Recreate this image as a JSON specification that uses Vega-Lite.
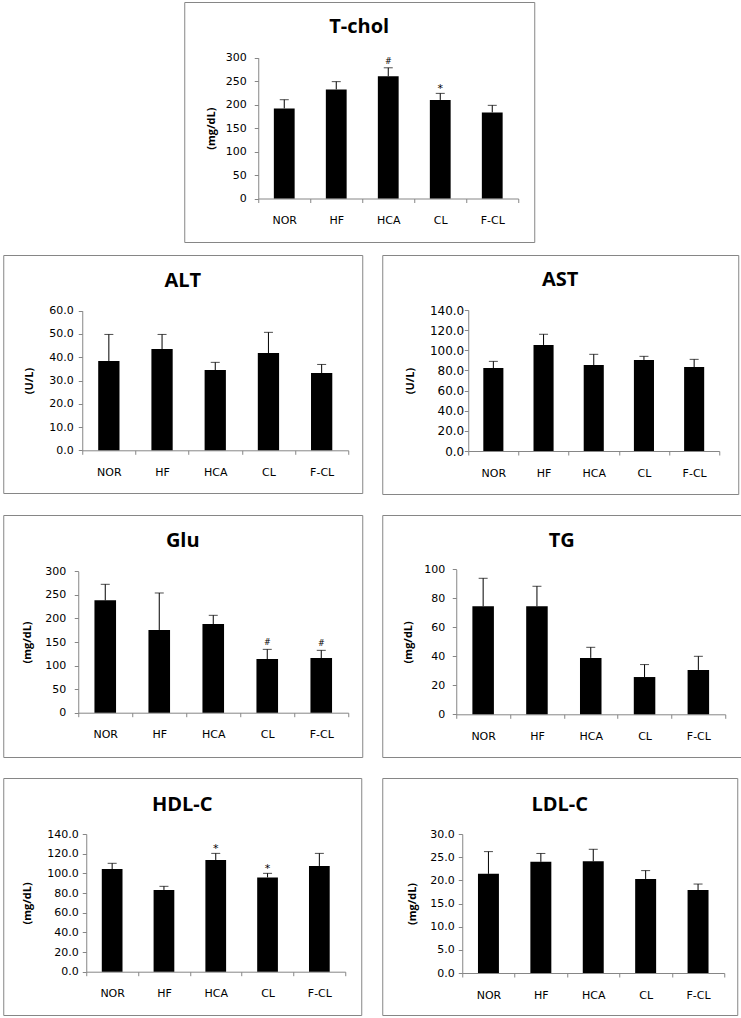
{
  "$schema": "https://vega.github.io/schema/vega-lite/v6.json",
  "background": "white",
  "padding": {"left": 2, "top": 1, "right": 0, "bottom": 0},
  "data": {"values": [
    {"panel": "T-chol", "group": "NOR", "value": 192, "upper": 210.5, "sig": ""},
    {"panel": "T-chol", "group": "HF", "value": 232.5, "upper": 249, "sig": ""},
    {"panel": "T-chol", "group": "HCA", "value": 260.5, "upper": 278.5, "sig": "#"},
    {"panel": "T-chol", "group": "CL", "value": 210, "upper": 224, "sig": "*"},
    {"panel": "T-chol", "group": "F-CL", "value": 183.5, "upper": 198.5, "sig": ""},
    {"panel": "ALT", "group": "NOR", "value": 38.4, "upper": 49.8, "sig": ""},
    {"panel": "ALT", "group": "HF", "value": 43.5, "upper": 49.8, "sig": ""},
    {"panel": "ALT", "group": "HCA", "value": 34.5, "upper": 37.8, "sig": ""},
    {"panel": "ALT", "group": "CL", "value": 41.8, "upper": 50.7, "sig": ""},
    {"panel": "ALT", "group": "F-CL", "value": 33.2, "upper": 36.9, "sig": ""},
    {"panel": "AST", "group": "NOR", "value": 82.4, "upper": 89.0, "sig": ""},
    {"panel": "AST", "group": "HF", "value": 105.3, "upper": 115.9, "sig": ""},
    {"panel": "AST", "group": "HCA", "value": 85.4, "upper": 96.0, "sig": ""},
    {"panel": "AST", "group": "CL", "value": 90.4, "upper": 94.0, "sig": ""},
    {"panel": "AST", "group": "F-CL", "value": 83.4, "upper": 91.0, "sig": ""},
    {"panel": "Glu", "group": "NOR", "value": 238.4, "upper": 272.4, "sig": ""},
    {"panel": "Glu", "group": "HF", "value": 175.5, "upper": 254, "sig": ""},
    {"panel": "Glu", "group": "HCA", "value": 188.2, "upper": 206.6, "sig": ""},
    {"panel": "Glu", "group": "CL", "value": 113.9, "upper": 134.4, "sig": "#"},
    {"panel": "Glu", "group": "F-CL", "value": 116, "upper": 132.3, "sig": "#"},
    {"panel": "TG", "group": "NOR", "value": 74.5, "upper": 93.8, "sig": ""},
    {"panel": "TG", "group": "HF", "value": 74.5, "upper": 88.3, "sig": ""},
    {"panel": "TG", "group": "HCA", "value": 38.9, "upper": 46.2, "sig": ""},
    {"panel": "TG", "group": "CL", "value": 25.7, "upper": 34.3, "sig": ""},
    {"panel": "TG", "group": "F-CL", "value": 30.6, "upper": 40.0, "sig": ""},
    {"panel": "HDL-C", "group": "NOR", "value": 104.4, "upper": 110.2, "sig": ""},
    {"panel": "HDL-C", "group": "HF", "value": 83.1, "upper": 86.8, "sig": ""},
    {"panel": "HDL-C", "group": "HCA", "value": 113.6, "upper": 120.3, "sig": "*"},
    {"panel": "HDL-C", "group": "CL", "value": 95.9, "upper": 100.0, "sig": "*"},
    {"panel": "HDL-C", "group": "F-CL", "value": 107.5, "upper": 120.3, "sig": ""},
    {"panel": "LDL-C", "group": "NOR", "value": 21.4, "upper": 26.2, "sig": ""},
    {"panel": "LDL-C", "group": "HF", "value": 24.0, "upper": 25.8, "sig": ""},
    {"panel": "LDL-C", "group": "HCA", "value": 24.1, "upper": 26.7, "sig": ""},
    {"panel": "LDL-C", "group": "CL", "value": 20.3, "upper": 22.1, "sig": ""},
    {"panel": "LDL-C", "group": "F-CL", "value": 17.9, "upper": 19.2, "sig": ""}
  ]},
  "spacing": 11,
  "center": true,
  "vconcat": [
    {
      "width": 350, "height": 240,
      "title": {"text": "T-chol", "offset": -35},
      "transform": [{"filter": "datum.panel === 'T-chol'"}],
      "encoding": {"x": {"field": "group", "type": "nominal", "sort": ["NOR", "HF", "HCA", "CL", "F-CL"], "scale": {"range": [74, 334], "paddingInner": 0, "paddingOuter": 0}, "axis": {"title": null, "offset": -43.5}}},
      "layer": [
        {
          "layer": [
            {"mark": {"type": "bar", "color": "#000", "width": {"band": 0.4}}, "encoding": {"y": {"field": "value", "type": "quantitative", "scale": {"domain": [0, 300], "range": [196.5, 55.7]}, "axis": {"title": "(mg/dL)", "values": [0, 50, 100, 150, 200, 250, 300], "tickCount": 20, "format": "d", "offset": -74, "labelPadding": 8, "titleX": -47, "titleBaseline": "middle"}}}},
            {"mark": {"type": "rule", "color": "#000"}, "encoding": {"y": {"field": "value", "type": "quantitative", "title": "(mg/dL)"}, "y2": {"field": "upper"}}},
            {"transform": [{"filter": "datum.sig === '#'"}], "mark": {"type": "text", "font": "DejaVu Sans", "fontSize": 8, "baseline": "alphabetic", "dy": -4, "color": "#000"}, "encoding": {"y": {"field": "upper", "type": "quantitative", "title": "(mg/dL)"}, "text": {"field": "sig"}}},
            {"transform": [{"filter": "datum.sig === '*'"}], "mark": {"type": "text", "font": "DejaVu Sans", "fontSize": 11, "baseline": "alphabetic", "dy": -1.5, "color": "#000"}, "encoding": {"y": {"field": "upper", "type": "quantitative", "title": "(mg/dL)"}, "text": {"field": "sig"}}}
          ]
        },
        {"mark": {"type": "tick", "color": "#000", "size": 9, "thickness": 1}, "encoding": {"y": {"field": "upper", "type": "quantitative", "scale": {"domain": [0, 300], "range": [196.5, 55.7]}, "axis": {"orient": "right", "domain": false, "ticks": false, "labels": false, "title": null, "minExtent": 26, "maxExtent": 26}}}}
      ],
      "resolve": {"scale": {"y": "independent"}, "axis": {"y": "independent"}}
    },
    {
      "columns": 2,
      "bounds": "flush",
      "spacing": {"row": 21, "column": 20},
      "concat": [
        {
          "width": 359, "height": 238,
          "title": {"text": "ALT", "offset": -36},
          "transform": [{"filter": "datum.panel === 'ALT'"}],
          "encoding": {"x": {"field": "group", "type": "nominal", "sort": ["NOR", "HF", "HCA", "CL", "F-CL"], "scale": {"range": [79, 345], "paddingInner": 0, "paddingOuter": 0}, "axis": {"title": null, "offset": -42.7}}},
          "layer": [
            {"mark": {"type": "bar", "color": "#000", "width": {"band": 0.4}}, "encoding": {"y": {"field": "value", "type": "quantitative", "scale": {"domain": [0, 60], "range": [195.3, 55.7]}, "axis": {"title": "(U/L)", "values": [0, 10, 20, 30, 40, 50, 60], "tickCount": 20, "format": ".1f", "offset": -79, "labelPadding": 5, "titleX": -53, "titleBaseline": "middle"}}}},
            {"mark": {"type": "rule", "color": "#000"}, "encoding": {"y": {"field": "value", "type": "quantitative", "title": "(U/L)"}, "y2": {"field": "upper"}}},
            {"mark": {"type": "tick", "color": "#000", "size": 9, "thickness": 1}, "encoding": {"y": {"field": "upper", "type": "quantitative", "title": "(U/L)"}}}
          ]
        },
        {
          "width": 356, "height": 239,
          "title": {"text": "AST", "offset": -35},
          "transform": [{"filter": "datum.panel === 'AST'"}],
          "encoding": {"x": {"field": "group", "type": "nominal", "sort": ["NOR", "HF", "HCA", "CL", "F-CL"], "scale": {"range": [86, 337], "paddingInner": 0, "paddingOuter": 0}, "axis": {"title": null, "offset": -43}}},
          "layer": [
            {"mark": {"type": "bar", "color": "#000", "width": {"band": 0.4}}, "encoding": {"y": {"field": "value", "type": "quantitative", "scale": {"domain": [0, 140], "range": [196, 55]}, "axis": {"title": "(U/L)", "values": [0, 20, 40, 60, 80, 100, 120, 140], "tickCount": 20, "format": ".1f", "offset": -86, "labelPadding": 0.5, "labelFontSize": 12, "titleX": -58, "titleBaseline": "middle"}}}},
            {"mark": {"type": "rule", "color": "#000"}, "encoding": {"y": {"field": "value", "type": "quantitative", "title": "(U/L)"}, "y2": {"field": "upper"}}},
            {"mark": {"type": "tick", "color": "#000", "size": 9, "thickness": 1}, "encoding": {"y": {"field": "upper", "type": "quantitative", "title": "(U/L)"}}}
          ]
        },
        {
          "width": 359, "height": 242,
          "title": {"text": "Glu", "offset": -36},
          "transform": [{"filter": "datum.panel === 'Glu'"}],
          "encoding": {"x": {"field": "group", "type": "nominal", "sort": ["NOR", "HF", "HCA", "CL", "F-CL"], "scale": {"range": [75, 345], "paddingInner": 0, "paddingOuter": 0}, "axis": {"title": null, "offset": -44.3}}},
          "layer": [
            {"mark": {"type": "bar", "color": "#000", "width": {"band": 0.4}}, "encoding": {"y": {"field": "value", "type": "quantitative", "scale": {"domain": [0, 300], "range": [197.7, 56.3]}, "axis": {"title": "(mg/dL)", "values": [0, 50, 100, 150, 200, 250, 300], "tickCount": 20, "format": "d", "offset": -75, "labelPadding": 8.5, "titleX": -50.5, "titleBaseline": "middle"}}}},
            {"mark": {"type": "rule", "color": "#000"}, "encoding": {"y": {"field": "value", "type": "quantitative", "title": "(mg/dL)"}, "y2": {"field": "upper"}}},
            {"mark": {"type": "tick", "color": "#000", "size": 9, "thickness": 1}, "encoding": {"y": {"field": "upper", "type": "quantitative", "title": "(mg/dL)"}}},
            {"transform": [{"filter": "datum.sig === '#'"}], "mark": {"type": "text", "font": "DejaVu Sans", "fontSize": 8, "baseline": "alphabetic", "dy": -4, "color": "#000"}, "encoding": {"y": {"field": "upper", "type": "quantitative", "title": "(mg/dL)"}, "text": {"field": "sig"}}}
          ]
        },
        {
          "width": 359, "height": 242,
          "title": {"text": "TG", "offset": -35.5},
          "transform": [{"filter": "datum.panel === 'TG'"}],
          "encoding": {"x": {"field": "group", "type": "nominal", "sort": ["NOR", "HF", "HCA", "CL", "F-CL"], "scale": {"range": [74, 343], "paddingInner": 0, "paddingOuter": 0}, "axis": {"title": null, "offset": -42.7}}},
          "layer": [
            {"mark": {"type": "bar", "color": "#000", "width": {"band": 0.4}}, "encoding": {"y": {"field": "value", "type": "quantitative", "scale": {"domain": [0, 100], "range": [199.3, 54.3]}, "axis": {"title": "(mg/dL)", "values": [0, 20, 40, 60, 80, 100], "tickCount": 20, "format": "d", "offset": -74, "labelPadding": 7.5, "titleX": -48, "titleBaseline": "middle"}}}},
            {"mark": {"type": "rule", "color": "#000"}, "encoding": {"y": {"field": "value", "type": "quantitative", "title": "(mg/dL)"}, "y2": {"field": "upper"}}},
            {"mark": {"type": "tick", "color": "#000", "size": 9, "thickness": 1}, "encoding": {"y": {"field": "upper", "type": "quantitative", "title": "(mg/dL)"}}}
          ]
        },
        {
          "width": 358, "height": 237,
          "title": {"text": "HDL-C", "offset": -37},
          "transform": [{"filter": "datum.panel === 'HDL-C'"}],
          "encoding": {"x": {"field": "group", "type": "nominal", "sort": ["NOR", "HF", "HCA", "CL", "F-CL"], "scale": {"range": [83, 342], "paddingInner": 0, "paddingOuter": 0}, "axis": {"title": null, "offset": -43.3}}},
          "layer": [
            {"mark": {"type": "bar", "color": "#000", "width": {"band": 0.4}}, "encoding": {"y": {"field": "value", "type": "quantitative", "scale": {"domain": [0, 140], "range": [193.7, 56]}, "axis": {"title": "(mg/dL)", "values": [0, 20, 40, 60, 80, 100, 120, 140], "tickCount": 20, "format": ".1f", "offset": -83, "labelPadding": 4, "titleX": -59, "titleBaseline": "middle"}}}},
            {"mark": {"type": "rule", "color": "#000"}, "encoding": {"y": {"field": "value", "type": "quantitative", "title": "(mg/dL)"}, "y2": {"field": "upper"}}},
            {"mark": {"type": "tick", "color": "#000", "size": 9, "thickness": 1}, "encoding": {"y": {"field": "upper", "type": "quantitative", "title": "(mg/dL)"}}},
            {"transform": [{"filter": "datum.sig === '*'"}], "mark": {"type": "text", "font": "DejaVu Sans", "fontSize": 11, "baseline": "alphabetic", "dy": -1.5, "color": "#000"}, "encoding": {"y": {"field": "upper", "type": "quantitative", "title": "(mg/dL)"}, "text": {"field": "sig"}}}
          ]
        },
        {
          "width": 355, "height": 237,
          "title": {"text": "LDL-C", "offset": -37},
          "transform": [{"filter": "datum.panel === 'LDL-C'"}],
          "encoding": {"x": {"field": "group", "type": "nominal", "sort": ["NOR", "HF", "HCA", "CL", "F-CL"], "scale": {"range": [80, 342], "paddingInner": 0, "paddingOuter": 0}, "axis": {"title": null, "offset": -42}}},
          "layer": [
            {"mark": {"type": "bar", "color": "#000", "width": {"band": 0.4}}, "encoding": {"y": {"field": "value", "type": "quantitative", "scale": {"domain": [0, 30], "range": [195, 56]}, "axis": {"title": "(mg/dL)", "values": [0, 5, 10, 15, 20, 25, 30], "tickCount": 20, "format": ".1f", "offset": -80, "labelPadding": 4, "titleX": -50, "titleBaseline": "middle"}}}},
            {"mark": {"type": "rule", "color": "#000"}, "encoding": {"y": {"field": "value", "type": "quantitative", "title": "(mg/dL)"}, "y2": {"field": "upper"}}},
            {"mark": {"type": "tick", "color": "#000", "size": 9, "thickness": 1}, "encoding": {"y": {"field": "upper", "type": "quantitative", "title": "(mg/dL)"}}}
          ]
        }
      ]
    }
  ],
  "config": {
    "view": {"stroke": "#868686", "strokeWidth": 1, "fill": "white"},
    "axis": {"grid": false, "labelOverlap": false, "domainColor": "#868686", "tickColor": "#868686", "tickSize": 4, "labelFont": "DejaVu Sans", "labelFontSize": 11, "labelColor": "#000", "titleFont": "Open Sans", "titleFontSize": 11, "titleFontWeight": "bold", "titleColor": "#000"},
    "axisX": {"labelAngle": 0, "tickBand": "extent", "labelPadding": 12},
    "title": {"font": "Open Sans", "fontSize": 20, "fontWeight": "bold", "color": "#000", "anchor": "middle", "frame": "group", "baseline": "alphabetic"}
  }
}
